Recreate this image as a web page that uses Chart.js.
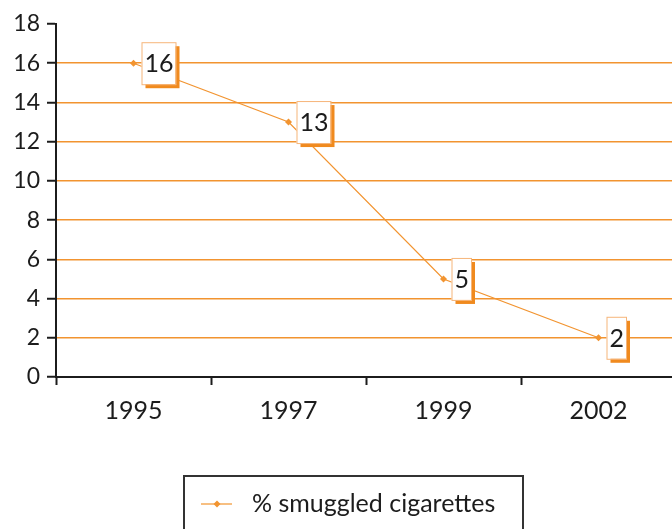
<!DOCTYPE html>
<html>
<head>
<meta charset="utf-8">
<script src="https://cdn.jsdelivr.net/npm/chart.js@4/dist/chart.umd.min.js"></script>
<style>
  html, body { margin: 0; padding: 0; background: #fff; overflow: hidden; }
  #wrap { width: 680px; height: 529px; }
</style>
</head>
<body>
<div id="wrap"><canvas id="myChart"></canvas></div>
<script>
// smuggled cigarettes share, by year
let years = ['1995', '1997', '1999', '2002'];
let smuggled = [16, 13, 5, 2];
let yTicks = [0, 2, 4, 6, 8, 10, 12, 14, 16, 18];
let seriesName = '% smuggled cigarettes';

let orange = '#F29430';
let ink = '#1c1c1c';
let fontName = 'Lato, "Open Sans", sans-serif';

// boxed value next to each point, with a solid orange drop shadow
let valueBoxes = {
    id: 'valueBoxes',
    afterDatasetsDraw(chart) {
        let ctx = chart.ctx;
        let meta = chart.getDatasetMeta(0);
        ctx.save();
        ctx.font = '25px ' + fontName;
        ctx.textBaseline = 'middle';
        ctx.textAlign = 'center';
        meta.data.forEach((pt, i) => {
            let txt = String(chart.data.datasets[0].data[i]);
            let w = ctx.measureText(txt).width + 5;
            let h = 42;
            let x = pt.x + 8;
            let y = pt.y - h / 2;
            ctx.fillStyle = '#F08A1E';
            ctx.fillRect(x + 4, y + 4, w, h);
            ctx.fillStyle = '#fff';
            ctx.fillRect(x, y, w, h);
            ctx.strokeStyle = '#F6B57A';
            ctx.lineWidth = 1;
            ctx.strokeRect(x + 0.5, y + 0.5, w, h);
            ctx.fillStyle = ink;
            ctx.fillText(txt, x + w / 2 + 0.5, pt.y + 1);
        });
        ctx.restore();
    }
};

// framed legend at the bottom
let boxLegend = {
    id: 'boxLegend',
    afterDraw(chart) {
        let ctx = chart.ctx;
        ctx.save();
        ctx.strokeStyle = '#333';
        ctx.lineWidth = 2;
        ctx.strokeRect(184, 476, 339, 70);
        let ly = 504;
        ctx.strokeStyle = orange;
        ctx.lineWidth = 1.2;
        ctx.beginPath();
        ctx.moveTo(201, ly);
        ctx.lineTo(232, ly);
        ctx.stroke();
        ctx.fillStyle = orange;
        ctx.beginPath();
        ctx.moveTo(217, ly - 3.5);
        ctx.lineTo(220.5, ly);
        ctx.lineTo(217, ly + 3.5);
        ctx.lineTo(213.5, ly);
        ctx.closePath();
        ctx.fill();
        ctx.fillStyle = ink;
        ctx.font = '25px ' + fontName;
        ctx.textBaseline = 'middle';
        ctx.fillText(chart.data.datasets[0].label, 252, ly);
        ctx.restore();
    }
};

var ctx = document.getElementById('myChart').getContext('2d');
var chart = new Chart(ctx, {
    type: 'line',
    data: {
        labels: years,
        datasets: [{
            label: seriesName,
            data: smuggled,
            borderColor: orange,
            backgroundColor: orange,
            borderWidth: 1.2,
            pointStyle: 'rectRot',
            pointRadius: 3.5,
            pointBorderWidth: 0,
            tension: 0
        }]
    },
    options: {
        responsive: true,
        maintainAspectRatio: false,
        animation: false,
        layout: { padding: { top: 24, left: 0, right: 0, bottom: 0 } },
        plugins: {
            legend: { display: false },
            tooltip: { enabled: false }
        },
        scales: {
            x: {
                offset: true,
                afterFit: (s) => { s.height = 152; },
                grid: {
                    offset: true,
                    color: 'rgba(0,0,0,0)',
                    tickColor: ink,
                    tickLength: 8,
                    tickWidth: 2
                },
                border: { color: ink, width: 2 },
                ticks: { color: ink, padding: 11, font: { family: fontName, size: 25 } }
            },
            y: {
                min: yTicks[0],
                max: yTicks[yTicks.length - 1],
                afterFit: (s) => { s.width = 56; },
                afterBuildTicks: (s) => { s.ticks = yTicks.map(v => ({ value: v })); },
                grid: {
                    color: (c) => (c.tick && (c.tick.value === 0 || c.tick.value === 18)) ? 'rgba(0,0,0,0)' : orange,
                    lineWidth: 1.5,
                    tickColor: ink,
                    tickLength: 9,
                    tickWidth: 2
                },
                border: { color: ink, width: 2 },
                ticks: { color: ink, padding: 7, font: { family: fontName, size: 23 } }
            }
        }
    },
    plugins: [valueBoxes, boxLegend]
});
</script>
</body>
</html>
